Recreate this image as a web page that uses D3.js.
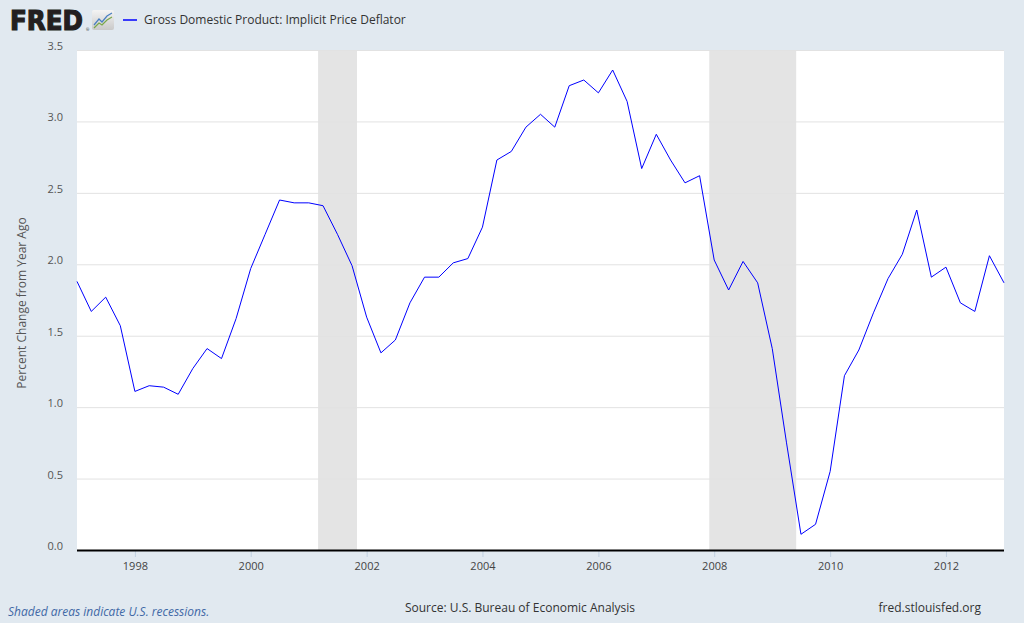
<!DOCTYPE html>
<html><head><meta charset="utf-8">
<script src="https://cdn.jsdelivr.net/npm/d3@7"></script>
<style>
html,body{margin:0;padding:0;background:#e1e9f0;}
svg{display:block;font-family:"Open Sans",sans-serif;}
</style></head>
<body>
<script>
// ---- data ----
const startQuarter = "1997-01-01";
const values = [
  1.88, 1.67, 1.77, 1.57, 1.11, 1.15, 1.14, 1.09,
  1.27, 1.41, 1.34, 1.62, 1.97, 2.21, 2.45, 2.43,
  2.43, 2.41, 2.21, 1.99, 1.63, 1.38, 1.47, 1.73,
  1.91, 1.91, 2.01, 2.04, 2.26, 2.73, 2.79, 2.96,
  3.05, 2.96, 3.25, 3.29, 3.20, 3.36, 3.14, 2.67,
  2.91, 2.73, 2.57, 2.62, 2.03, 1.82, 2.02, 1.87,
  1.41, 0.75, 0.11, 0.18, 0.55, 1.22, 1.40, 1.66,
  1.90, 2.07, 2.38, 1.91, 1.98, 1.73, 1.67, 2.06,
  1.87
];
const recessions = [["2001-03-01","2001-11-01"],["2007-12-01","2009-06-01"]];
const yTicks = [0, 0.5, 1.0, 1.5, 2.0, 2.5, 3.0, 3.5];
const xTickYears = [1998, 2000, 2002, 2004, 2006, 2008, 2010, 2012];
const seriesTitle = "Gross Domestic Product: Implicit Price Deflator";
const yAxisTitle = "Percent Change from Year Ago";

(function(){
const parse = d3.utcParse("%Y-%m-%d");
const start = parse(startQuarter);
const data = values.map((v,i)=>({date: d3.utcMonth.offset(start, 3*i), value: v}));

const W = 1024, H = 623;
const svg = d3.select("body").append("svg").attr("width", W).attr("height", H);
svg.append("rect").attr("width", W).attr("height", H).attr("fill", "#e1e9f0");

const pL = 77, pR = 1004, pT = 50, pB = 550;
const x = d3.scaleUtc().domain([parse("1997-01-01"), parse("2013-01-01")]).range([pL, pR]);
const y = d3.scaleLinear().domain([0, 3.5]).range([pB, pT]);

// plot background
svg.append("rect").attr("x", pL).attr("y", pT).attr("width", pR-pL).attr("height", pB-pT).attr("fill", "#ffffff");

// recessions
svg.append("g").selectAll("rect").data(recessions).join("rect")
  .attr("x", d=>x(parse(d[0]))).attr("width", d=>x(parse(d[1]))-x(parse(d[0])))
  .attr("y", pT).attr("height", pB-pT).attr("fill", "#e4e4e4");

// y grid + labels
const yAxis = d3.axisLeft(y).tickValues(yTicks).tickFormat(d3.format(".1f")).tickSize(-(pR-pL)).tickPadding(14);
const gy = svg.append("g").attr("transform", `translate(${pL},0)`).call(yAxis);
gy.select(".domain").remove();
gy.selectAll(".tick line").attr("stroke", "#e2e2e2").attr("stroke-width", 1);
gy.selectAll(".tick text").attr("fill", "#555").attr("font-size", 11).attr("dy", "-0.05em")
  .attr("font-family", "Open Sans, sans-serif");

// x axis
const xAxis = d3.axisBottom(x).tickValues(xTickYears.map(yr=>new Date(Date.UTC(yr,0,1))))
  .tickFormat(d3.utcFormat("%Y")).tickSize(7).tickPadding(5);
const gx = svg.append("g").attr("transform", `translate(0,${pB})`).call(xAxis);
gx.select(".domain").remove();
gx.selectAll(".tick line").attr("stroke", "#c0d0e0");
gx.selectAll(".tick text").attr("fill", "#444").attr("font-size", 11).attr("font-family", "Open Sans, sans-serif");

// line
const line = d3.line().x(d=>x(d.date)).y(d=>y(d.value));
svg.append("path").datum(data).attr("d", line).attr("fill", "none")
  .attr("stroke", "#0000ff").attr("stroke-width", 1).attr("stroke-linejoin","miter");

// baseline
svg.append("line").attr("x1", pL).attr("x2", pR).attr("y1", pB+0.5).attr("y2", pB+0.5)
  .attr("stroke", "#000").attr("stroke-width", 2);

// y axis title
svg.append("text").attr("transform", `translate(26,${303}) rotate(-90)`)
  .attr("text-anchor", "middle").attr("font-size", 12).attr("fill", "#555").text(yAxisTitle);

// header: FRED logo
svg.append("text").attr("x", 10).attr("y", 30).attr("font-family", "'DejaVu Sans', sans-serif")
  .attr("font-weight", 900).attr("font-size", 26).attr("fill", "#231f20")
  .attr("stroke", "#231f20").attr("stroke-width", 1.2)
  .attr("textLength", 73).attr("lengthAdjust","spacingAndGlyphs").text("FRED");
svg.append("text").attr("x", 86).attr("y", 31).attr("font-size", 4).attr("fill", "#231f20").text("®");
const icon = svg.append("g").attr("transform", "translate(92,10)");
const grad = svg.append("defs").append("linearGradient").attr("id","ig").attr("x1",0).attr("y1",0).attr("x2",0).attr("y2",1);
grad.append("stop").attr("offset","0").attr("stop-color","#f4f4f4");
grad.append("stop").attr("offset","1").attr("stop-color","#c9c9c9");
icon.append("rect").attr("width", 22).attr("height", 20).attr("rx", 2).attr("fill", "url(#ig)");
icon.append("path").attr("d","M2,15 L7,9 L10,12 L15,6 L20,3").attr("fill","none").attr("stroke","#4a7fc1").attr("stroke-width",1.2);
icon.append("path").attr("d","M2,18 L7,13 L10,15 L15,10 L20,7").attr("fill","none").attr("stroke","#7aa84a").attr("stroke-width",1.2);

// legend
svg.append("line").attr("x1", 123).attr("x2", 137).attr("y1", 20).attr("y2", 20).attr("stroke", "#0000ff").attr("stroke-width", 1.5);
svg.append("text").attr("x", 144).attr("y", 24).attr("font-size", 12).attr("fill", "#333")
  .text(seriesTitle);

// footer
svg.append("text").attr("x", 8).attr("y", 616).attr("font-size", 12).attr("font-style", "italic")
  .attr("fill", "#3f68a6").text("Shaded areas indicate U.S. recessions.");
svg.append("text").attr("x", 520).attr("y", 612).attr("text-anchor","middle").attr("font-size", 12)
  .attr("fill", "#333").text("Source: U.S. Bureau of Economic Analysis");
svg.append("text").attr("x", 981).attr("y", 612).attr("text-anchor","end").attr("font-size", 12)
  .attr("fill", "#333").text("fred.stlouisfed.org");
})();
</script>
</body></html>
